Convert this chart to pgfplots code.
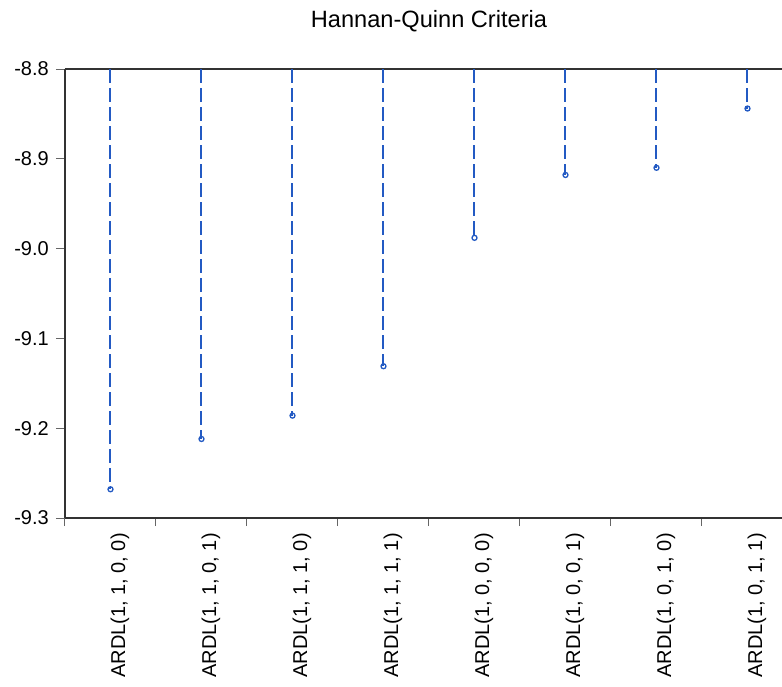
\documentclass[border=0pt]{standalone}
\usepackage{fontspec}
\setmainfont{Liberation Sans}
\usepackage{pgfplots}
\pgfplotsset{compat=1.18}
\definecolor{stem}{RGB}{35,90,195}
\begin{document}
\begin{tikzpicture}
\begin{axis}[
  width=728pt, height=449pt, scale only axis,
  xmin=0, xmax=8, ymin=-9.3, ymax=-8.8,
  axis x line=box, axis y line=left,
  y axis line style={-},
  axis line style={draw=black!80, line width=1.8pt},
  xtick pos=bottom, ytick pos=left,
  tick align=outside,
  ytick={-9.3,-9.2,-9.1,-9.0,-8.9,-8.8},
  yticklabels={-9.3,-9.2,-9.1,-9.0,-8.9,-8.8},
  xtick={0.5,1.5,...,7.5},
  xticklabels={{ARDL(1, 1, 0, 0)},{ARDL(1, 1, 0, 1)},{ARDL(1, 1, 1, 0)},{ARDL(1, 1, 1, 1)},{ARDL(1, 0, 0, 0)},{ARDL(1, 0, 0, 1)},{ARDL(1, 0, 1, 0)},{ARDL(1, 0, 1, 1)}},
  minor xtick={0,1,...,7},
  major tick length=9pt, minor tick length=8pt,
  major x tick style={draw=none},
  minor x tick style={draw=black!60, line width=1pt},
  y tick style={draw=black!60, line width=1pt},
  tick label style={font=\fontsize{20}{24}\selectfont},
  yticklabel style={inner sep=0pt, xshift=-7pt},
  xticklabel style={rotate=90, anchor=north east, inner ysep=0pt, inner xsep=6pt},
  title={Hannan-Quinn Criteria},
  title style={at={(0.5,1)}, anchor=base, yshift=36pt, font=\fontsize{23.6}{28}\selectfont},
]
\addplot[ycomb, draw=stem, dash pattern=on 14pt off 5pt, line width=2pt,
  mark=o, mark size=2.5pt, mark options={solid, draw=stem, line width=1.3pt}]
  coordinates {
  (0.5,-9.268) (1.5,-9.212) (2.5,-9.186) (3.5,-9.131)
  (4.5,-8.988) (5.5,-8.918) (6.5,-8.910) (7.5,-8.844)
  };
\end{axis}
\pgfresetboundingbox
\path[use as bounding box] (-65pt,-168pt) rectangle (717pt,518pt);
\end{tikzpicture}
\end{document}
